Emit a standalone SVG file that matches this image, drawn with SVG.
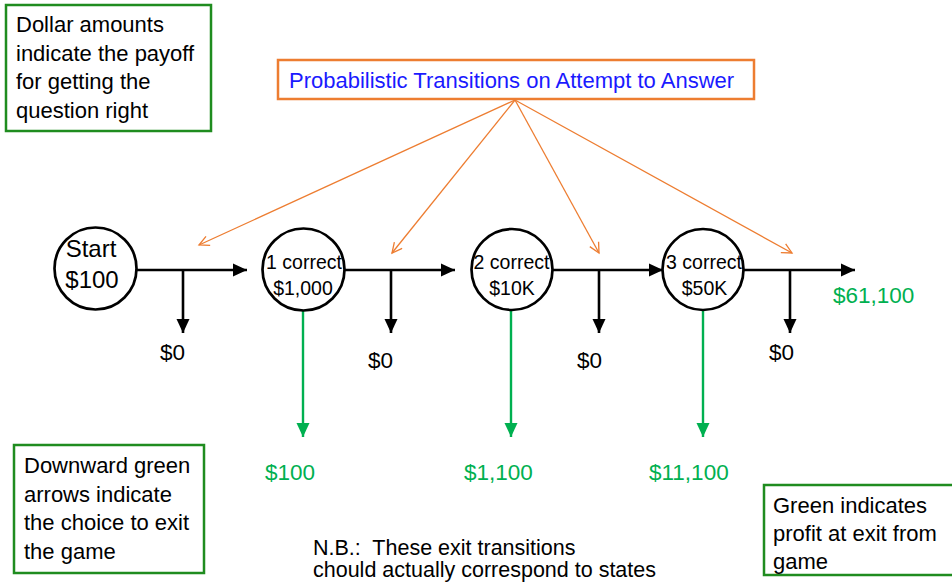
<svg xmlns="http://www.w3.org/2000/svg" width="952" height="588" viewBox="0 0 952 588">
<style>
text { font-family: "Liberation Sans", Arial, sans-serif; fill: #000; }
.note { font-size: 22px; }
.box { fill: #fff; stroke: #1f8c1f; stroke-width: 2.5; }
.obox { fill: #fff; stroke: #ed7d31; stroke-width: 2.5; }
.state { fill: #fff; stroke: #000; stroke-width: 2.7; }
.blk { stroke: #000; stroke-width: 2.6; fill: none; }
.grn { stroke: #00b050; stroke-width: 2.4; fill: none; }
.org { stroke: #ed7d31; stroke-width: 1.3; fill: none; }
.gtxt { fill: #00b050; font-size: 22.5px; }
.zero { font-size: 22.5px; }
.lbl { font-size: 19.5px; text-anchor: middle; }
</style>
<defs>
<marker id="ab" markerUnits="userSpaceOnUse" markerWidth="16" markerHeight="14" refX="14" refY="7" orient="auto">
<path d="M0,0.5 L14,7 L0,13.5 Z" fill="#000"/>
</marker>
<marker id="ag" markerUnits="userSpaceOnUse" markerWidth="16" markerHeight="14" refX="14" refY="7" orient="auto">
<path d="M0,0.5 L14,7 L0,13.5 Z" fill="#00b050"/>
</marker>
<marker id="ao" markerUnits="userSpaceOnUse" markerWidth="14" markerHeight="14" refX="11" refY="6" orient="auto">
<path d="M1,1 L11,6 L1,11" fill="none" stroke="#ed7d31" stroke-width="1.3"/>
</marker>
</defs>

<g id="note-dollar">
<rect class="box" x="6" y="5" width="205" height="126"/>
<text class="note" x="16" y="32">Dollar amounts</text>
<text class="note" x="16" y="61">indicate the payoff</text>
<text class="note" x="16" y="89">for getting the</text>
<text class="note" x="16" y="118">question right</text>
</g>

<g id="note-prob">
<rect class="obox" x="278" y="60" width="476" height="39"/>
<text x="289" y="88" style="font-size:22px; fill:#1a1aff">Probabilistic Transitions on Attempt to Answer</text>
</g>

<g id="connectors">
<line class="org" x1="515" y1="100" x2="199" y2="245" marker-end="url(#ao)"/>
<line class="org" x1="515" y1="100" x2="392" y2="253" marker-end="url(#ao)"/>
<line class="org" x1="515" y1="100" x2="599" y2="253" marker-end="url(#ao)"/>
<line class="org" x1="515" y1="100" x2="792" y2="253" marker-end="url(#ao)"/>

<line class="blk" x1="136" y1="270" x2="247" y2="270" marker-end="url(#ab)"/>
<line class="blk" x1="344" y1="270" x2="455" y2="270" marker-end="url(#ab)"/>
<line class="blk" x1="552" y1="270" x2="663" y2="270" marker-end="url(#ab)"/>
<line class="blk" x1="743" y1="270" x2="855" y2="270" marker-end="url(#ab)"/>

<line class="blk" x1="183" y1="270" x2="183" y2="333" marker-end="url(#ab)"/>
<line class="blk" x1="391" y1="270" x2="391" y2="333" marker-end="url(#ab)"/>
<line class="blk" x1="599" y1="270" x2="599" y2="333" marker-end="url(#ab)"/>
<line class="blk" x1="790" y1="270" x2="790" y2="333" marker-end="url(#ab)"/>

<line class="grn" x1="303" y1="310" x2="303" y2="437" marker-end="url(#ag)"/>
<line class="grn" x1="511" y1="310" x2="511" y2="437" marker-end="url(#ag)"/>
<line class="grn" x1="703" y1="310" x2="703" y2="437" marker-end="url(#ag)"/>
</g>

<g id="state-start">
<circle class="state" cx="95.5" cy="268.5" r="41"/>
<text x="91" y="257" style="font-size:24px; text-anchor:middle">Start</text>
<text x="92" y="288" style="font-size:24px; text-anchor:middle">$100</text>
</g>
<g id="state-1">
<circle class="state" cx="303.5" cy="269.5" r="41"/>
<text class="lbl" x="304" y="269">1 correct</text>
<text class="lbl" x="303" y="295">$1,000</text>
</g>
<g id="state-2">
<circle class="state" cx="512" cy="269.5" r="40.5"/>
<text class="lbl" x="511.5" y="269">2 correct</text>
<text class="lbl" x="512" y="295">$10K</text>
</g>
<g id="state-3">
<circle class="state" cx="703" cy="269.5" r="40.5"/>
<text class="lbl" x="704" y="269">3 correct</text>
<text class="lbl" x="704.5" y="295">$50K</text>
</g>

<g id="labels-zero">
<text class="zero" x="160" y="360">$0</text>
<text class="zero" x="368" y="368">$0</text>
<text class="zero" x="577" y="368">$0</text>
<text class="zero" x="769" y="360">$0</text>
</g>

<g id="labels-exit">
<text class="gtxt" x="265" y="480">$100</text>
<text class="gtxt" x="464" y="480">$1,100</text>
<text class="gtxt" x="649" y="480">$11,100</text>
<text class="gtxt" x="833" y="303">$61,100</text>
</g>

<g id="note-exit">
<rect class="box" x="14" y="445" width="190" height="128"/>
<text class="note" x="24" y="473">Downward green</text>
<text class="note" x="24" y="502">arrows indicate</text>
<text class="note" x="24" y="530">the choice to exit</text>
<text class="note" x="24" y="559">the game</text>
</g>

<g id="note-green">
<rect class="box" x="764" y="485" width="192" height="90"/>
<text class="note" x="773" y="513">Green indicates</text>
<text class="note" x="773" y="541">profit at exit from</text>
<text class="note" x="773" y="569">game</text>
</g>

<g id="note-nb">
<text xml:space="preserve" x="313" y="555" style="font-size:21.5px">N.B.:  These exit transitions</text>
<text x="313" y="577" style="font-size:21.5px">chould actually correspond to states</text>
</g>
</svg>
